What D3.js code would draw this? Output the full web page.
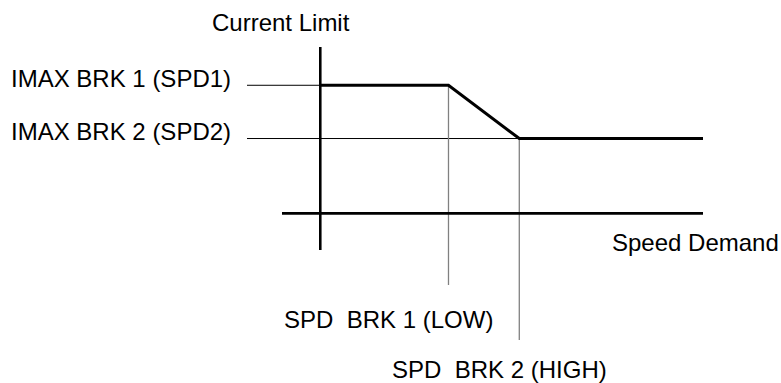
<!DOCTYPE html>
<html>
<head>
<meta charset="utf-8">
<script src="https://cdn.jsdelivr.net/npm/d3@7"></script>
<style>
  html, body { margin: 0; padding: 0; background: #fff; }
  svg text { font-family: "Liberation Sans", Arial, sans-serif; font-size: 24px; fill: #000; white-space: pre; }
</style>
</head>
<body>
<svg id="chart" width="781" height="383"></svg>
<script>
// Speed break points (speed demand units) and the current limit at each break
const speedBreaks = [33.5, 52];
const currentLimits = [77, 45];
const limitLabels = ["IMAX BRK 1 (SPD1)", "IMAX BRK 2 (SPD2)"];
const breakLabels = ["SPD  BRK 1 (LOW)", "SPD  BRK 2 (HIGH)"];
const axisTitles = { y: "Current Limit", x: "Speed Demand" };
const speedMax = 100;

const svg = d3.select("#chart");

const x = d3.scaleLinear().domain([-10, speedMax]).range([282, 703]);
const y = d3.scaleLinear().domain([-22, 100]).range([250, 47]);

// Current limit profile: flat at IMAX1, ramps down between the breaks, flat at IMAX2
const profile = [
  [0, currentLimits[0]],
  [speedBreaks[0], currentLimits[0]],
  [speedBreaks[1], currentLimits[1]],
  [speedMax, currentLimits[1]]
];

// Horizontal reference lines from the limit labels
const refStart = 247;
svg.selectAll("line.ref")
  .data(currentLimits)
  .join("line")
  .attr("class", "ref")
  .attr("x1", refStart)
  .attr("x2", (d, i) => i === 0 ? x(0) : x(speedBreaks[1]))
  .attr("y1", d => y(d))
  .attr("y2", d => y(d))
  .attr("stroke", "#000")
  .attr("stroke-width", 1);

// Vertical drop lines from the speed breaks
const dropEnds = [285, 340];
svg.selectAll("line.drop")
  .data(speedBreaks)
  .join("line")
  .attr("class", "drop")
  .attr("x1", d => x(d))
  .attr("x2", d => x(d))
  .attr("y1", (d, i) => y(currentLimits[i]))
  .attr("y2", (d, i) => dropEnds[i])
  .attr("stroke", "#808080")
  .attr("stroke-width", 1.3);

// Axes
svg.append("line")
  .attr("x1", x(0)).attr("x2", x(0))
  .attr("y1", y(100)).attr("y2", y(-22))
  .attr("stroke", "#000").attr("stroke-width", 2.6);
svg.append("line")
  .attr("x1", x(-10)).attr("x2", x(speedMax))
  .attr("y1", y(0)).attr("y2", y(0))
  .attr("stroke", "#000").attr("stroke-width", 2.6);

// Profile line
svg.append("path")
  .datum(profile)
  .attr("d", d3.line().x(d => x(d[0])).y(d => y(d[1])))
  .attr("fill", "none")
  .attr("stroke", "#000")
  .attr("stroke-width", 3)
  .attr("stroke-linejoin", "miter");

// Labels
svg.append("text").attr("x", 212).attr("y", 31).text(axisTitles.y);
svg.append("text").attr("x", 612).attr("y", 251).text(axisTitles.x);

svg.selectAll("text.limit")
  .data(limitLabels)
  .join("text")
  .attr("class", "limit")
  .attr("x", 11)
  .attr("y", (d, i) => y(currentLimits[i]) + 1.5)
  .text(d => d);

const breakLabelX = [284, 392];
const breakLabelY = [328, 378];
svg.selectAll("text.brk")
  .data(breakLabels)
  .join("text")
  .attr("class", "brk")
  .attr("x", (d, i) => breakLabelX[i])
  .attr("y", (d, i) => breakLabelY[i])
  .text(d => d);
</script>
</body>
</html>
